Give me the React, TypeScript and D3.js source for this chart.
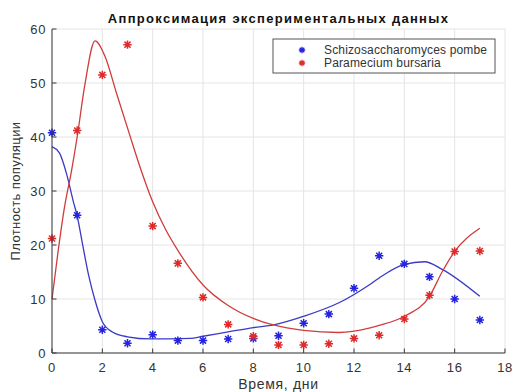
import React from 'react';
import * as d3 from 'd3';

// experimental points (day, density)
const days = [0, 1, 2, 3, 4, 5, 6, 7, 8, 9, 10, 11, 12, 13, 14, 15, 16, 17];
const pombe = [40.8, 25.5, 4.3, 1.8, 3.4, 2.3, 2.3, 2.6, 2.7, 3.2, 5.5, 7.2, 12, 18, 16.5, 14.1, 10, 6.1];
const bursaria = [21.2, 41.2, 51.5, 57.1, 23.5, 16.6, 10.3, 5.3, 3.1, 1.5, 1.5, 1.7, 2.7, 3.3, 6.3, 10.7, 18.8, 18.9];

// approximating curves
const pombeFitT = [0, 0.3, 0.6, 0.85, 1.0, 1.2, 1.45, 1.7, 2.0, 2.4, 3.0, 3.9, 5.5, 6, 7, 8, 8.8, 10, 11.4, 12.6, 13.0, 14.0, 14.8, 15.5, 17];
const pombeFitV = [38.2, 37.0, 32.8, 28.0, 25.4, 20.5, 14.5, 9.9, 5.8, 3.9, 3.0, 2.6, 2.7, 3.1, 3.9, 4.7, 5.2, 6.8, 9.3, 12.6, 13.9, 16.4, 16.9, 15.5, 10.5];
const bursariaFitT = [0, 0.25, 0.5, 0.77, 1.0, 1.3, 1.71, 2.1, 2.57, 3.1, 3.5, 4.0, 4.5, 5.0, 6.0, 7.0, 8.0, 8.8, 10.0, 11.4, 12.6, 13.0, 14.0, 15.0, 15.5, 16.0, 17.0];
const bursariaFitV = [10, 19.1, 27.1, 33.6, 40.0, 49.5, 57.8, 55.0, 48.0, 40.2, 34.4, 28.0, 23.0, 19.0, 12.6, 8.8, 6.4, 5.2, 4.2, 3.8, 4.6, 5.1, 6.8, 10.5, 15.0, 18.8, 23.1];

const xTicks = [0, 2, 4, 6, 8, 10, 12, 14, 16, 18];
const yTicks = [0, 10, 20, 30, 40, 50, 60];

const series = [
  { name: 'Schizosaccharomyces pombe', values: pombe, fitT: pombeFitT, fitV: pombeFitV, mark: '#2424e0', line: '#3a3ac4' },
  { name: 'Paramecium bursaria', values: bursaria, fitT: bursariaFitT, fitV: bursariaFitV, mark: '#e02a2a', line: '#d03c3c' },
];

const W = 513;
const H = 392;
const margin = { top: 29, right: 8, bottom: 39, left: 52 };
const font = '"Liberation Sans", Arial, sans-serif';

function star(cx: number, cy: number, r: number) {
  const d = r * 0.72;
  return `M${cx - r},${cy}H${cx + r}M${cx},${cy - r}V${cy + r}` +
    `M${cx - d},${cy - d}L${cx + d},${cy + d}M${cx - d},${cy + d}L${cx + d},${cy - d}`;
}

export default function App() {
  const x = d3.scaleLinear().domain([0, 18]).range([margin.left, W - margin.right]);
  const y = d3.scaleLinear().domain([0, 60]).range([H - margin.bottom, margin.top]);

  const line = d3.line<[number, number]>()
    .x(d => x(d[0]))
    .y(d => y(d[1]))
    .curve(d3.curveMonotoneX);

  const x0 = x(0), x1 = x(18), y0 = y(0), y1 = y(60);

  return (
    <svg width={W} height={H} style={{ position: 'absolute', left: 0, top: 0, background: '#fff' }} fontFamily={font}>
      {/* grid */}
      <g stroke="#e4e4e4" strokeWidth={1}>
        {xTicks.map(t => <line key={'gx' + t} x1={x(t)} x2={x(t)} y1={y0} y2={y1} />)}
        {yTicks.map(t => <line key={'gy' + t} x1={x0} x2={x1} y1={y(t)} y2={y(t)} />)}
      </g>

      {/* fits */}
      {series.map(s => (
        <path key={'fit' + s.name} d={line(s.fitT.map((t, i) => [t, s.fitV[i]] as [number, number])) || ''}
          fill="none" stroke={s.line} strokeWidth={1.3} />
      ))}

      {/* points */}
      {series.map(s => (
        <path key={'pts' + s.name} d={s.values.map((v, i) => star(x(days[i]), y(v), 4.2)).join('')}
          fill="none" stroke={s.mark} strokeWidth={1.5} />
      ))}

      {/* axes */}
      <g stroke="#3a3a3a" strokeWidth={1} fill="none">
        <line x1={x0} x2={x1} y1={y0} y2={y0} />
        <line x1={x0} x2={x0} y1={y0} y2={y1} />
        {xTicks.map(t => <line key={'tx' + t} x1={x(t)} x2={x(t)} y1={y0} y2={y0 - 4.5} />)}
        {yTicks.map(t => <line key={'ty' + t} x1={x0} x2={x0 + 4.5} y1={y(t)} y2={y(t)} />)}
      </g>
      <g fill="#333" fontSize={13} letterSpacing={0.6}>
        {xTicks.map(t => (
          <text key={'lx' + t} x={x(t)} y={y0 + 19} textAnchor="middle">{t}</text>
        ))}
        {yTicks.map(t => (
          <text key={'ly' + t} x={x0 - 6} y={y(t) + 4.5} textAnchor="end">{t}</text>
        ))}
      </g>

      <text x={(x0 + x1) / 2} y={389} textAnchor="middle" fontSize={14} letterSpacing={0.7} fill="#333">Время, дни</text>
      <text transform={`translate(20,${(y0 + y1) / 2}) rotate(-90)`} textAnchor="middle" fontSize={13} letterSpacing={0.4} fill="#333">Плотность популяции</text>
      <text x={(x0 + x1) / 2} y={22.5} textAnchor="middle" fontSize={13} fontWeight="bold" letterSpacing={1.3} fill="#111">Аппроксимация экспериментальных данных</text>

      {/* legend */}
      <g transform="translate(273,39)">
        <rect width={222} height={34} fill="#fff" stroke="#555" strokeWidth={1} />
        {series.map((s, i) => (
          <g key={'lg' + s.name} transform={`translate(0,${11 + i * 13})`}>
            <path d={star(29, 0, 3.2)} fill="none" stroke={s.mark} strokeWidth={1.3} />
            <text x={51} y={4} fontSize={12} letterSpacing={0.15} fill="#333">{s.name}</text>
          </g>
        ))}
      </g>
    </svg>
  );
}
